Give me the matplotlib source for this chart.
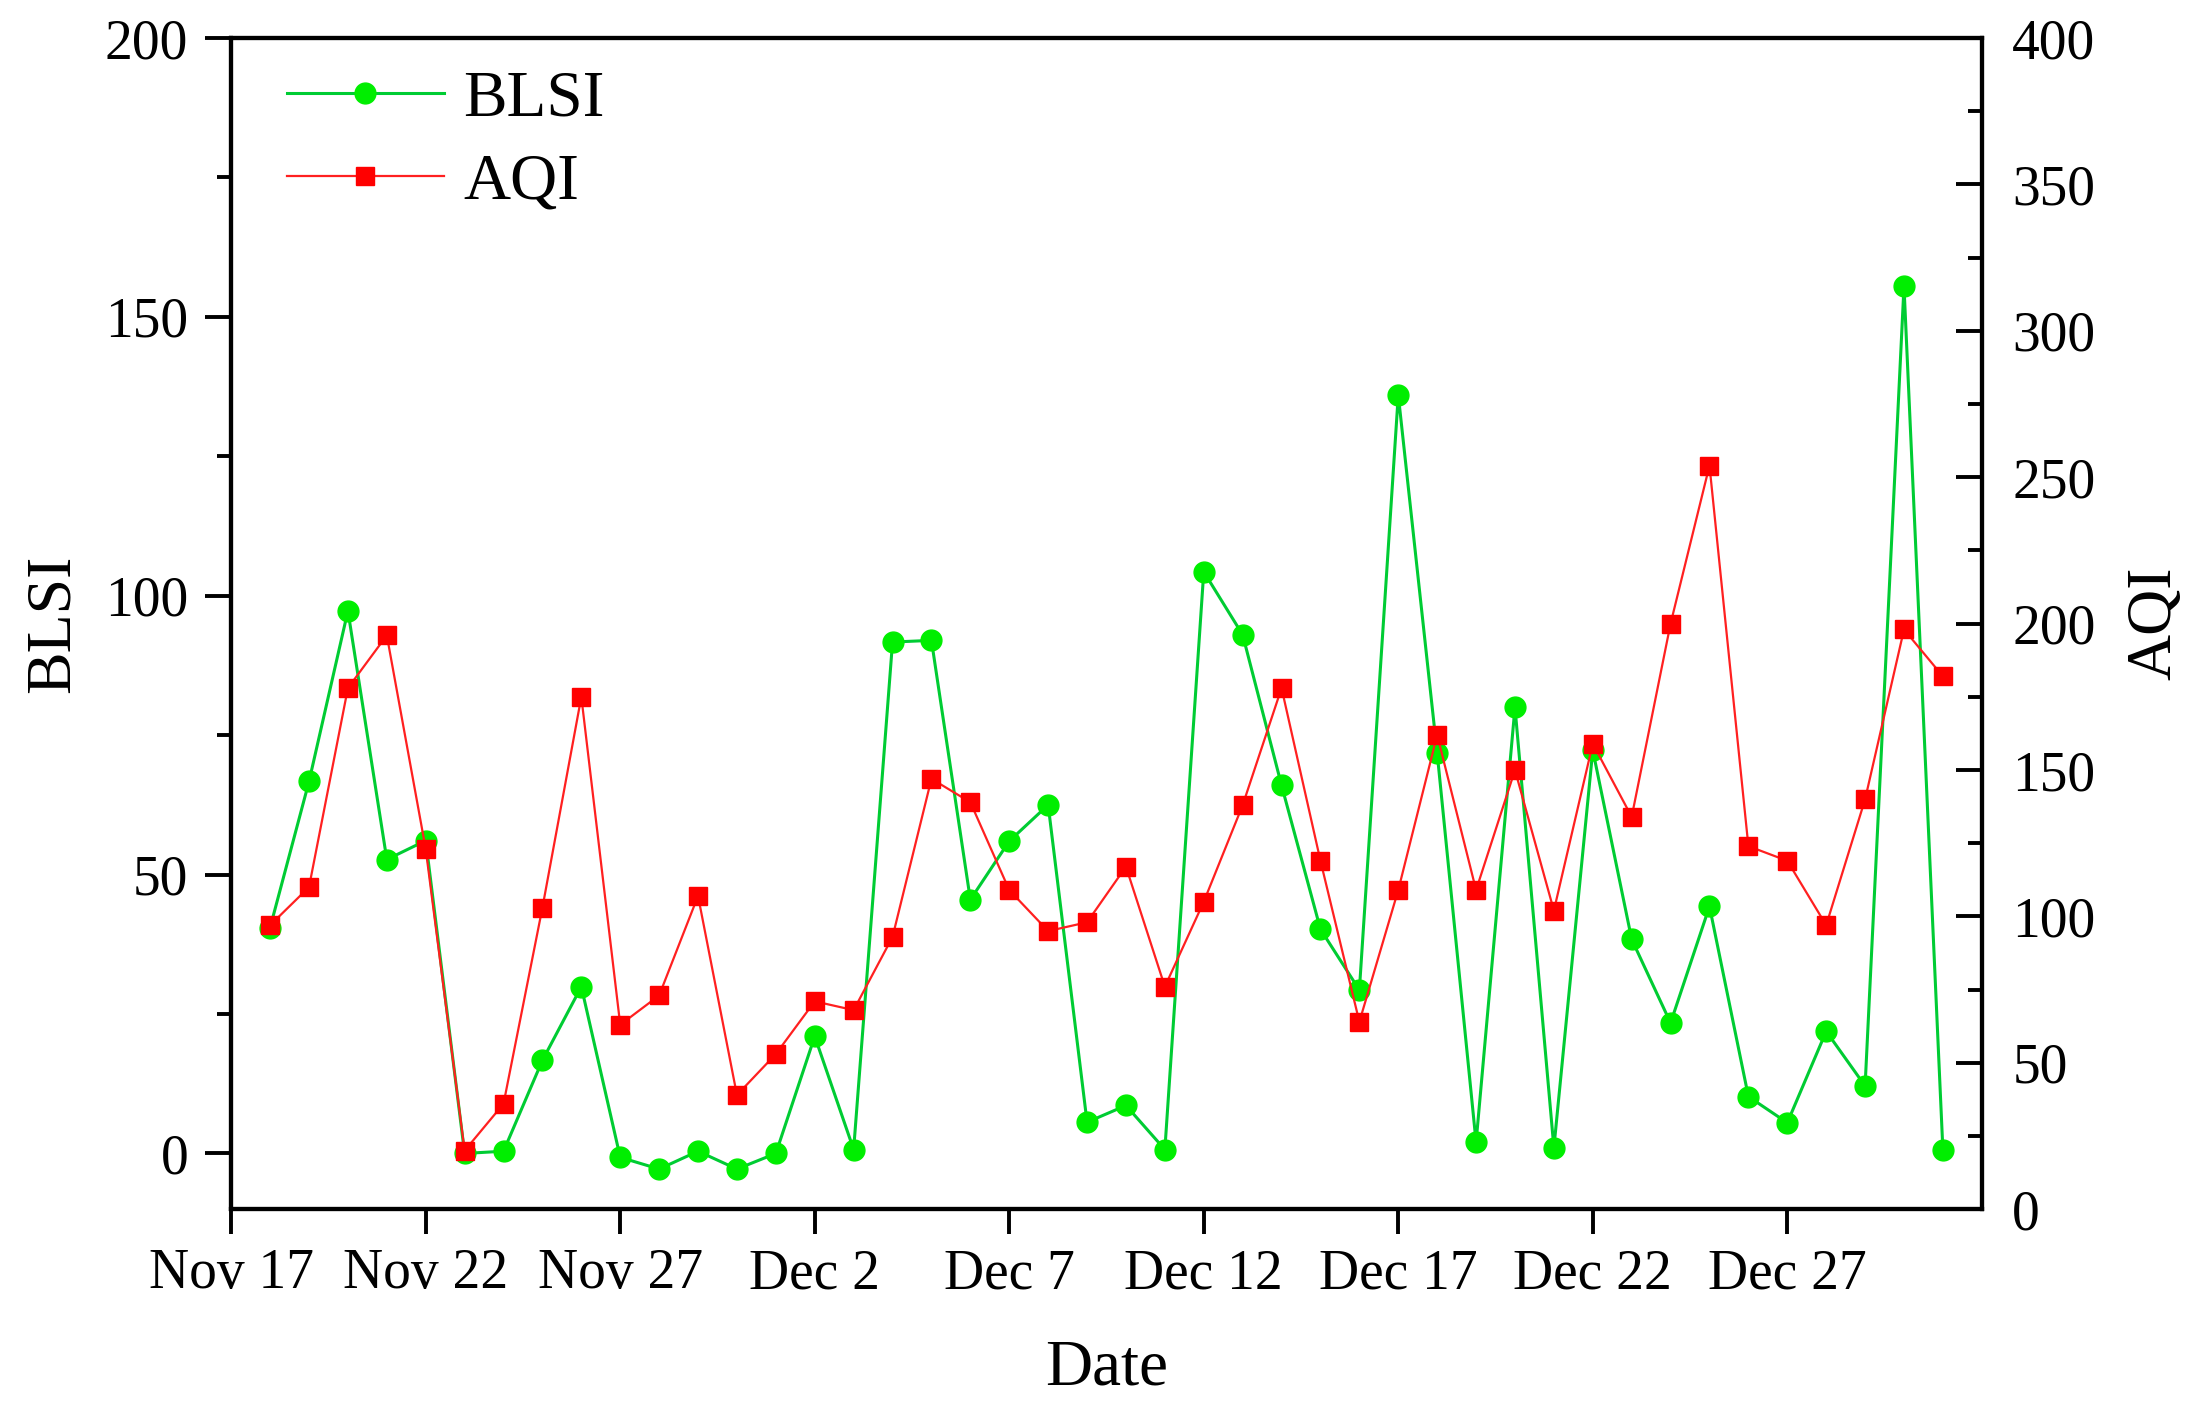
#Daily BLSI and AQI, Nov 18 - Dec 31, on two y axes
import numpy as np
import pandas as pd
import matplotlib
matplotlib.use("Agg")
import matplotlib.pyplot as plt
from matplotlib.ticker import MultipleLocator

dates = pd.date_range("2016-11-18", "2016-12-31", freq="D")

blsi = [40.5, 66.7, 97.3, 52.7, 56.1, 0.0, 0.4, 16.7, 29.9, -0.7,
        -2.8, 0.4, -2.8, 0.0, 21.0, 0.7, 91.7, 92.0, 45.5, 56.0,
        62.5, 5.6, 8.6, 0.7, 104.3, 93.0, 66.0, 40.2, 29.3, 136.0,
        71.8, 2.0, 80.0, 1.0, 72.3, 38.4, 23.4, 44.3, 10.2, 5.5,
        21.9, 12.1, 155.5, 0.6]

aqi = [97, 110, 178, 196, 123, 20, 36, 103, 175, 63,
       73, 107, 39, 53, 71, 68, 93, 147, 139, 109,
       95, 98, 117, 76, 105, 138, 178, 119, 64, 109,
       162, 109, 150, 102, 159, 134, 200, 254, 124, 119,
       97, 140, 198, 182]

tick_dates = pd.date_range("2016-11-17", periods=9, freq="5D")
tick_labels = ["Nov 17", "Nov 22", "Nov 27", "Dec 2", "Dec 7",
               "Dec 12", "Dec 17", "Dec 22", "Dec 27"]


def main():
    plt.rcParams["font.family"] = ["Liberation Serif", "DejaVu Serif"]
    fig = plt.figure(figsize=(22.02, 14.10), dpi=100)
    ax1 = fig.add_axes([0.105, 0.1424, 0.795, 0.8306])
    ax2 = ax1.twinx()

    l1, = ax1.plot(dates, blsi, color="#00cc33", lw=2.2, marker="o",
                   ms=15, mfc="#00ee00", mec="#00ee00", label="BLSI")
    l2, = ax2.plot(dates, aqi, color="#ff2020", lw=1.6, marker="s",
                   ms=13, mfc="#ff0000", mec="#ff0000", label="AQI")

    ax1.set_xlim(pd.Timestamp("2016-11-17"), pd.Timestamp("2017-01-01"))
    ax1.set_ylim(-10, 200)
    ax2.set_ylim(0, 400)

    ax1.set_xticks(tick_dates)
    ax1.set_xticklabels(tick_labels)
    ax1.yaxis.set_major_locator(MultipleLocator(50))
    ax1.yaxis.set_minor_locator(MultipleLocator(25))
    ax2.yaxis.set_major_locator(MultipleLocator(50))
    ax2.yaxis.set_minor_locator(MultipleLocator(25))

    ax1.tick_params(axis="x", which="major", direction="out", length=18,
                    width=2.8, labelsize=40, pad=10)
    ax1.tick_params(axis="y", which="major", direction="out", length=19,
                    width=2.8, labelsize=40, pad=12)
    ax1.tick_params(axis="y", which="minor", direction="out", length=10,
                    width=2.8)
    ax2.tick_params(axis="y", which="major", direction="in", length=19,
                    width=2.8, labelsize=40, pad=22)
    ax2.tick_params(axis="y", which="minor", direction="in", length=10,
                    width=2.8)

    for ax in (ax1, ax2):
        for s in ax.spines.values():
            s.set_linewidth(3)

    ax1.set_xlabel("Date", fontsize=47, labelpad=28)
    ax1.set_ylabel("BLSI", fontsize=46, labelpad=16)
    ax2.set_ylabel("AQI", fontsize=46, labelpad=22)

    ax1.legend(handles=[l1, l2], loc="upper left", frameon=False,
               fontsize=47, handlelength=2.4, handletextpad=0.3,
               labelspacing=0.36, borderaxespad=0, borderpad=0.4,
               bbox_to_anchor=(0.017, 0.995))

    fig.savefig("out.png", dpi=100)


if __name__ == "__main__":
    main()
